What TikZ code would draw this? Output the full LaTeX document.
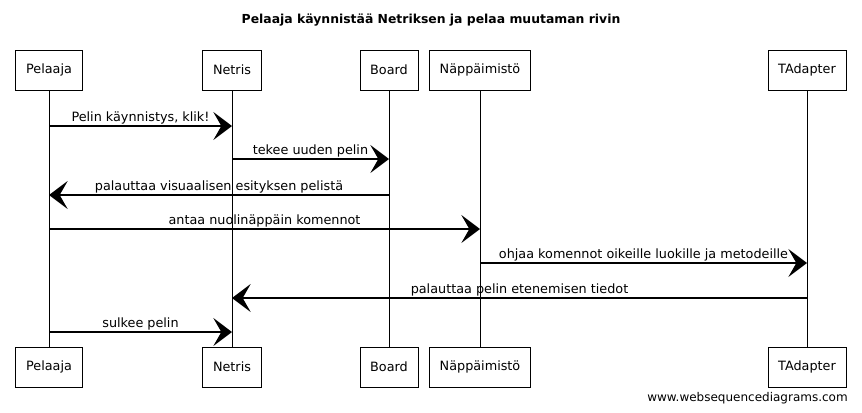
\documentclass[tikz,border=0pt]{standalone}
\usepackage{fontspec}
\setmainfont{DejaVu Sans}
\usetikzlibrary{arrows.meta}

\begin{document}
\begin{tikzpicture}[x=0.75pt,y=-0.75pt,
    actor/.style={draw,thin,minimum height=30pt,inner xsep=7.8pt,font=\fontsize{9.6}{11}\selectfont},
    msg/.style={line width=1.1pt,-{Stealth[length=14pt,width=21pt,inset=6pt]}},
    lbl/.style={font=\fontsize{9.6}{11}\selectfont,above,inner sep=0pt,yshift=1pt}]
    \useasboundingbox (0,0) rectangle (862,412);

    \node[font=\bfseries\fontsize{9.3}{12}\selectfont] (title) at (431,20) {Pelaaja käynnistää Netriksen ja pelaa muutaman rivin};

    \node[actor] (pelaaja) at (49,70) {Pelaaja};
    \node[actor] (netris) at (232,70) {Netris};
    \node[actor] (board) at (389,70) {Board};
    \node[actor] (nappis) at (480,70) {Näppäimistö};
    \node[actor] (tadapter) at (807,70) {TAdapter};

    \node[actor] (pelaajab) at (49,367) {Pelaaja};
    \node[actor] (netrisb) at (232,367) {Netris};
    \node[actor] (boardb) at (389,367) {Board};
    \node[actor] (nappisb) at (480,367) {Näppäimistö};
    \node[actor] (tadapterb) at (807,367) {TAdapter};

    \foreach \a in {pelaaja,netris,board,nappis,tadapter}
        \draw (\a) -- (\a b);

    \draw[msg] (pelaaja |- 0,126) -- node[lbl] {Pelin käynnistys, klik!} (netris |- 0,126);
    \draw[msg] (netris |- 0,159) -- node[lbl] {tekee uuden pelin} (board |- 0,159);
    \draw[msg] (board |- 0,195) -- node[lbl] {palauttaa visuaalisen esityksen pelistä} (pelaaja |- 0,195);
    \draw[msg] (pelaaja |- 0,229) -- node[lbl] {antaa nuolinäppäin komennot} (nappis |- 0,229);
    \draw[msg] (nappis |- 0,263) -- node[lbl] {ohjaa komennot oikeille luokille ja metodeille} (tadapter |- 0,263);
    \draw[msg] (tadapter |- 0,298) -- node[lbl] {palauttaa pelin etenemisen tiedot} (netris |- 0,298);
    \draw[msg] (pelaaja |- 0,332) -- node[lbl] {sulkee pelin} (netris |- 0,332);

    \node[anchor=east,inner sep=0pt,font=\fontsize{9}{11}\selectfont] (wsd) at (848,398) {www.websequencediagrams.com};
\end{tikzpicture}
\end{document}
